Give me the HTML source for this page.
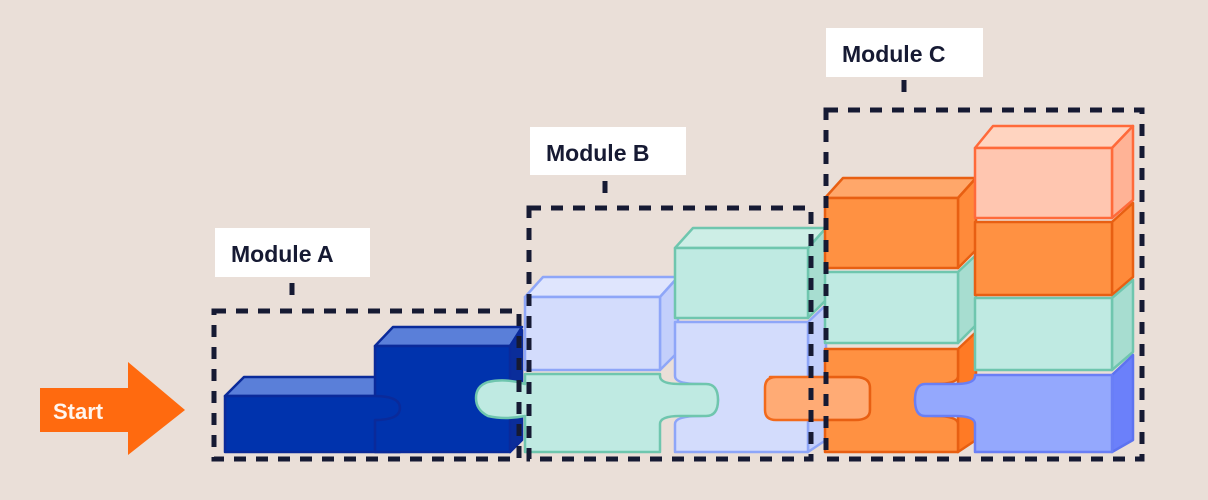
<!DOCTYPE html>
<html><head><meta charset="utf-8"><style>
html,body{margin:0;padding:0;background:#eadfd8;}
svg{display:block}
text{font-family:"Liberation Sans",sans-serif;font-weight:bold;}
</style></head><body>
<svg width="1208" height="500" viewBox="0 0 1208 500" xmlns="http://www.w3.org/2000/svg">
<rect width="1208" height="500" fill="#eadfd8"/>
<!-- Start arrow -->
<polygon points="40,388 128,388 128,362 185,410 128,455 128,432 40,432" fill="#ff6a0f"/>
<text x="53" y="419" font-size="22" fill="#fff5ee" font-weight="normal">Start</text>

<g stroke-linejoin="round" stroke-width="2.5">
<!-- Module A -->
<polygon points="225,396 244,377 392,377 375,396" fill="#5a7fd9" stroke="#0a2a9a"/>
<rect x="225" y="396" width="175" height="56" fill="#0033ad" stroke="#0a2a9a"/>
<polygon points="375,346 393,327 522,327 510,346" fill="#5a7fd9" stroke="#0a2a9a"/>
<polygon points="510,346 522,330 522,440 510,452" fill="#0a2d9a" stroke="#0a2a9a"/>
<path d="M375,346 H510 V452 H375 V420 Q400,420 400,408 Q400,396 375,396 Z" fill="#0033ad" stroke="#0a2a9a"/>

<!-- Module B -->
<polygon points="525,297 543,277 678,277 660,297" fill="#dfe5fd" stroke="#8ea6f8"/>
<polygon points="660,297 678,277 678,352 660,370" fill="#c3cffb" stroke="#8ea6f8"/>
<rect x="525" y="297" width="135" height="73" fill="#d3dcfc" stroke="#8ea6f8"/>
<polygon points="675,248 693,228 826,228 808,248" fill="#cdeee6" stroke="#6fc6ae"/>
<polygon points="808,248 826,228 826,300 808,318" fill="#a7ddd0" stroke="#6fc6ae"/>
<rect x="675" y="248" width="133" height="70" fill="#bfeae2" stroke="#6fc6ae"/>
<polygon points="808,322 826,305 826,440 808,452" fill="#c3cffb" stroke="#8ea6f8"/>
<path d="M675,322 H808 V452 H675 V424 Q675,416 700,416 Q718,416 718,400 Q718,384 700,384 Q675,384 675,376 Z" fill="#d3dcfc" stroke="#8ea6f8"/>
<path d="M525,374 H660 V376 Q660,384 680,384 H706 Q718,384 718,400 Q718,416 706,416 H680 Q660,416 660,424 L660,452 H525 V416 Q505,420 488,416 Q476,410 476,398 Q476,386 488,382 Q505,378 525,384 Z" fill="#bfeae2" stroke="#6fc6ae"/>
<path d="M770,377 H860 Q870,377 870,388 V410 Q870,420 860,420 H776 Q765,420 765,410 V388 Q765,377 776,377 Z" fill="#ffab75" stroke="#f26a1c"/>

<!-- Module C left column -->
<polygon points="825,198 843,178 976,178 958,198" fill="#ffa76a" stroke="#e85f12"/>
<polygon points="958,198 976,178 976,250 958,268" fill="#ff8a3a" stroke="#e85f12"/>
<rect x="825" y="198" width="133" height="70" fill="#ff9142" stroke="#e85f12"/>
<polygon points="958,272 976,255 976,325 958,343" fill="#a7ddd0" stroke="#6fc6ae"/>
<rect x="825" y="272" width="133" height="71" fill="#bfeae2" stroke="#6fc6ae"/>
<polygon points="958,349 976,332 976,440 958,452" fill="#ff7a25" stroke="#e85f12"/>
<path d="M825,349 H958 V376 Q958,384 935,384 Q915,384 915,400 Q915,416 935,416 Q958,416 958,424 V452 H825 V420 H855 Q870,420 870,410 V388 Q870,377 855,377 H825 Z" fill="#ff9142" stroke="#e85f12"/>

<!-- Module C right column -->
<polygon points="975,148 993,126 1133,126 1112,148" fill="#ffd4c0" stroke="#ff6a3a"/>
<polygon points="1112,148 1133,126 1133,200 1112,218" fill="#ffb396" stroke="#ff6a3a"/>
<rect x="975" y="148" width="137" height="70" fill="#ffc6b0" stroke="#ff6a3a"/>
<polygon points="1112,222 1133,203 1133,277 1112,295" fill="#ff8a3a" stroke="#e85f12"/>
<rect x="975" y="222" width="137" height="73" fill="#ff9142" stroke="#e85f12"/>
<polygon points="1112,298 1133,280 1133,352 1112,370" fill="#a7ddd0" stroke="#6fc6ae"/>
<rect x="975" y="298" width="137" height="72" fill="#bfeae2" stroke="#6fc6ae"/>
<polygon points="1112,375 1133,355 1133,440 1112,452" fill="#6b80fa" stroke="#5d73f0"/>
<path d="M975,375 H1112 V452 H975 V424 Q975,416 955,416 H925 Q915,416 915,400 Q915,384 925,384 H955 Q975,384 975,376 Z" fill="#94a8fd" stroke="#6a7ff5"/>
</g>

<!-- dashed module boxes -->
<g fill="none" stroke="#161a33" stroke-width="5" stroke-dasharray="12,10">
<rect x="214" y="311" width="305" height="148"/>
<rect x="529" y="208" width="282" height="251"/>
<rect x="826" y="110" width="316" height="349"/>
<line x1="292" y1="283" x2="292" y2="302"/>
<line x1="605" y1="181" x2="605" y2="200"/>
<line x1="904" y1="80" x2="904" y2="102"/>
</g>

<!-- labels -->
<rect x="215" y="228" width="155" height="49" fill="#ffffff"/>
<text x="231" y="262" font-size="23" fill="#161a33">Module A</text>
<rect x="530" y="127" width="156" height="48" fill="#ffffff"/>
<text x="546" y="161" font-size="23" fill="#161a33">Module B</text>
<rect x="826" y="28" width="157" height="49" fill="#ffffff"/>
<text x="842" y="62" font-size="23" fill="#161a33">Module C</text>
</svg>
</body></html>
